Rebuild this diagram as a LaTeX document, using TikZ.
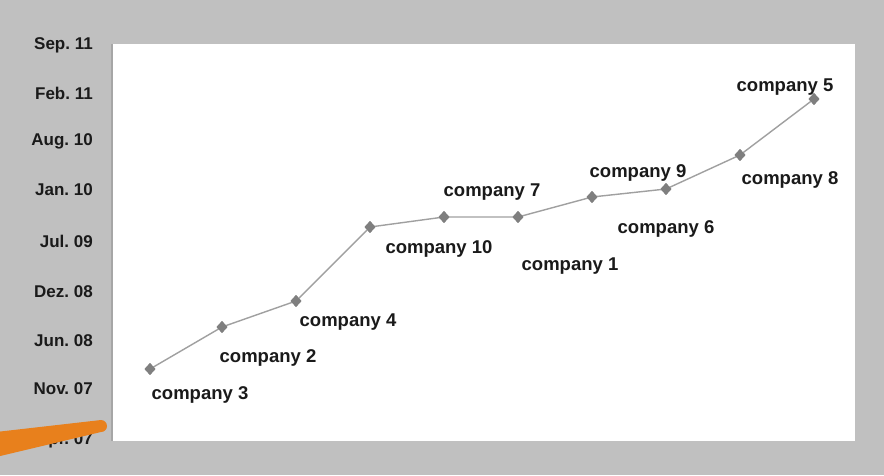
\documentclass[tikz,border=0pt]{standalone}
\usepackage{fontspec}
\setmainfont{Liberation Sans}
\usetikzlibrary{shapes.geometric}
\definecolor{bggray}{HTML}{C0C0C0}
\definecolor{edgegray}{HTML}{A6A6A6}
\definecolor{linegray}{HTML}{A0A0A0}
\definecolor{markgray}{HTML}{7F7F7F}
\definecolor{txt}{HTML}{1A1A1A}
\definecolor{orng}{HTML}{E8801C}
\tikzset{
  pt/.style={diamond, fill=markgray, inner sep=0pt, minimum width=11pt, minimum height=12pt},
  lab/.style={font=\fontsize{18.5}{21}\selectfont\bfseries, text=txt, inner sep=0pt},
  ax/.style={font=\fontsize{17}{20}\selectfont\bfseries, text=txt, inner sep=0pt, anchor=east},
  conn/.style={draw=linegray, line width=1.4pt}
}
\begin{document}
\frenchspacing
\begin{tikzpicture}[x=1pt,y=-1pt]
\useasboundingbox (0,0) rectangle (884,475);
\fill[bggray] (0,0) rectangle (884,475);
\fill[white] (113,44) rectangle (855,441);
\draw[edgegray, line width=1.5pt] (112,44) -- (112,441);
% axis labels
\node[ax] (y1) at (93,45) {Sep. 11};
\node[ax] (y2) at (93,93) {Feb. 11};
\node[ax] (y3) at (93,141) {Aug. 10};
\node[ax] (y4) at (93,190) {Jan. 10};
\node[ax] (y5) at (93,241) {Jul. 09};
\node[ax] (y6) at (93,292) {Dez. 08};
\node[ax] (y7) at (93,341) {Jun. 08};
\node[ax] (y8) at (93,389) {Nov. 07};
\node[ax] (y9) at (93,440) {Apr. 07};
% points
\node[pt] (p1) at (150,369) {};
\node[pt] (p2) at (222,327) {};
\node[pt] (p3) at (296,301) {};
\node[pt] (p4) at (370,227) {};
\node[pt] (p5) at (444,217) {};
\node[pt] (p6) at (518,217) {};
\node[pt] (p7) at (592,197) {};
\node[pt] (p8) at (666,189) {};
\node[pt] (p9) at (740,155) {};
\node[pt] (p10) at (814,99) {};
\draw[conn] (p1.center) -- (p2.center) -- (p3.center) -- (p4.center) -- (p5.center) -- (p6.center) -- (p7.center) -- (p8.center) -- (p9.center) -- (p10.center);
\foreach \i in {1,...,10} {\node[pt] at (p\i) {};}
% labels
\node[lab] (l3) at (200,395) {company 3};
\node[lab] (l2) at (268,358) {company 2};
\node[lab] (l4) at (348,322) {company 4};
\node[lab] (l10) at (439,249) {company 10};
\node[lab] (l7) at (492,192) {company 7};
\node[lab] (l1) at (570,266) {company 1};
\node[lab] (l9) at (638,173) {company 9};
\node[lab] (l6) at (666,229) {company 6};
\node[lab] (l8) at (790,180) {company 8};
\node[lab] (l5) at (785,87) {company 5};
% orange stroke (tapered brush mark)
\fill[orng] (-4,432) -- (101,420) arc[start angle=-90, end angle=90, radius=6] -- (-4,457) -- cycle;
\end{tikzpicture}
\end{document}
